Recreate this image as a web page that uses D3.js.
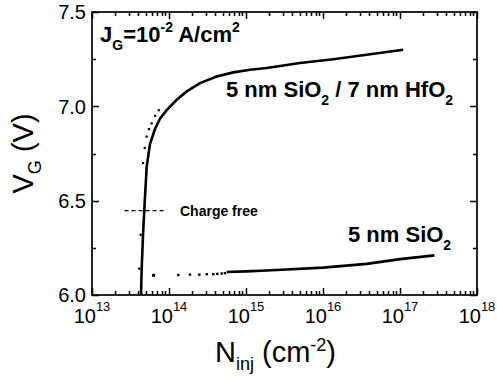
<!DOCTYPE html>
<html>
<head>
<meta charset="utf-8">
<script src="https://cdn.jsdelivr.net/npm/d3@7"></script>
<style>
  body { margin: 0; background: #fff; }
  svg text { font-family: "Liberation Sans", Arial, sans-serif; fill: #000; }
</style>
</head>
<body>
<svg width="497" height="381"></svg>
<script>
// Values: [N_inj (cm^-2), V_G (V)]
const hfo2Curve = [
    [4.33e13, 6.00], [4.42e13, 6.14], [4.6e13, 6.32], [4.85e13, 6.50], [5.13e13, 6.68],
    [5.66e13, 6.80], [6.58e13, 6.88], [7.64e13, 6.935], [9.33e13, 6.98], [1.26e14, 7.035],
    [1.70e14, 7.079], [2.53e14, 7.123], [4.16e14, 7.158], [6.84e14, 7.18], [1.13e15, 7.194],
    [1.86e15, 7.203], [5.03e15, 7.23], [1.36e16, 7.25], [3.69e16, 7.273], [1.10e17, 7.30]
];
const hfo2Dots = [
    [4.42e13, 6.14], [4.6e13, 6.32], [4.95e13, 6.70], [5.2e13, 6.78], [5.5e13, 6.84],
    [5.9e13, 6.88], [6.4e13, 6.91], [7.1e13, 6.95], [7.9e13, 6.98]
];
const sio2Dots = [
    [6.25e13, 6.106], [1.32e14, 6.106], [1.87e14, 6.108], [2.48e14, 6.108], [3.09e14, 6.11],
    [3.76e14, 6.11], [4.24e14, 6.112], [4.83e14, 6.114], [5.33e14, 6.116]
];
const sio2Curve = [
    [5.61e14, 6.122], [1.0e15, 6.125], [1.86e15, 6.13], [1.0e16, 6.145],
    [3.7e16, 6.165], [1.0e17, 6.19], [2.8e17, 6.21]
];
const xMajor = [1e13, 1e14, 1e15, 1e16, 1e17, 1e18];
const xExponents = ["13", "14", "15", "16", "17", "18"];
const yMajor = [6.0, 6.5, 7.0, 7.5];
const yMinor = [6.25, 6.75, 7.25];
const chargeFree = 6.447;

const svg = d3.select("svg");
const mLeft = 92, mRight = 477, mTop = 12, mBottom = 295;

const x = d3.scaleLog().domain([1e13, 1e18]).range([mLeft, mRight]);
const y = d3.scaleLinear().domain([6.0, 7.5]).range([mBottom, mTop]);

// minor ticks of the log axis (2..9 in each decade)
const xMinor = x.ticks().filter(v => xMajor.indexOf(v) < 0);

// Ticks pointing inward on all four sides, drawn as one path
let tickPath = "";
function xTicks(values, len) {
    values.forEach(v => {
        const px = Math.round(x(v)) + 0.5;
        tickPath += `M${px},${mBottom}V${mBottom - len}M${px},${mTop}V${mTop + len}`;
    });
}
function yTicks(values, len) {
    values.forEach(v => {
        const py = Math.round(y(v)) + 0.5;
        tickPath += `M${mLeft},${py}H${mLeft + len}M${mRight},${py}H${mRight - len}`;
    });
}
xTicks(xMinor, 4);
xTicks(xMajor, 7);
yTicks(yMinor, 4);
yTicks(yMajor, 7);
svg.append("path")
    .attr("d", tickPath)
    .attr("fill", "none")
    .attr("stroke", "#000")
    .attr("stroke-width", 1.5);

// tick labels
svg.append("g").selectAll("text")
    .data(yMajor)
    .enter()
    .append("text")
    .attr("x", mLeft - 6)
    .attr("y", d => y(d))
    .attr("dy", "0.36em")
    .attr("text-anchor", "end")
    .style("font-size", "20px")
    .text(d => d3.format(".1f")(d));

svg.append("g").selectAll("text")
    .data(xMajor)
    .enter()
    .append("text")
    .attr("x", d => x(d))
    .attr("y", 323)
    .attr("text-anchor", "middle")
    .style("font-size", "20px")
    .each(function(d, i) {
        const t = d3.select(this);
        t.append("tspan").text("10");
        t.append("tspan").attr("dy", -12).style("font-size", "13px").text(xExponents[i]);
    });

// frame
svg.append("rect")
    .attr("x", mLeft).attr("y", mTop)
    .attr("width", mRight - mLeft).attr("height", mBottom - mTop)
    .attr("fill", "none").attr("stroke", "#000").attr("stroke-width", 1.7);

// curves
const line = d3.line().x(d => x(d[0])).y(d => y(d[1]));

svg.append("path")
    .datum(hfo2Curve)
    .attr("d", line)
    .attr("fill", "none")
    .attr("stroke", "#000")
    .attr("stroke-width", 2.6);

svg.append("g").selectAll("rect")
    .data(hfo2Dots)
    .enter()
    .append("rect")
    .attr("x", d => x(d[0]) - 3.5)
    .attr("y", d => y(d[1]) - 1)
    .attr("width", 2.2).attr("height", 2.2)
    .attr("fill", "#000");

svg.append("path")
    .datum(sio2Curve)
    .attr("d", line)
    .attr("fill", "none")
    .attr("stroke", "#000")
    .attr("stroke-width", 2.6);

svg.append("g").selectAll("rect")
    .data(sio2Dots)
    .enter()
    .append("rect")
    .attr("x", d => x(d[0]) - 1.2)
    .attr("y", d => y(d[1]) - 1.2)
    .attr("width", (d, i) => i === 0 ? 3 : 2.4)
    .attr("height", (d, i) => i === 0 ? 3 : 2.4)
    .attr("fill", "#000");

// charge free marker
svg.append("line")
    .attr("x1", x(2.65e13)).attr("x2", x(9.3e13))
    .attr("y1", y(chargeFree)).attr("y2", y(chargeFree))
    .attr("stroke", "#000").attr("stroke-width", 1.2)
    .attr("stroke-dasharray", "4,3");
svg.append("text")
    .attr("x", 180).attr("y", y(chargeFree) + 5)
    .style("font-size", "14px").style("font-weight", "bold")
    .text("Charge free");

// labels
function label(xp, yp, parts) {
    const t = svg.append("text").attr("x", xp).attr("y", yp)
        .style("font-size", "22px").style("font-weight", "bold");
    let shift = 0;
    parts.forEach(p => {
        const s = t.append("tspan").text(p[0]);
        const dy = p[1] - shift;
        if (dy) s.attr("dy", dy);
        if (p[1]) s.style("font-size", "14px");
        shift = p[1];
    });
}
label(100, 42, [["J", 0], ["G", 8], ["=10", 0], ["-2", -10], [" A/cm", 0], ["2", -10]]);
label(226, 97, [["5 nm SiO", 0], ["2", 8], [" / 7 nm HfO", 0], ["2", 8]]);
label(348, 242, [["5 nm SiO", 0], ["2", 8]]);

// axis titles
const xt = svg.append("text").attr("x", 215).attr("y", 362).style("font-size", "29px");
xt.append("tspan").text("N");
xt.append("tspan").attr("dy", 8).style("font-size", "18px").text("inj");
xt.append("tspan").attr("dy", -8).text(" (cm");
xt.append("tspan").attr("dy", -11).style("font-size", "18px").text("-2");
xt.append("tspan").attr("dy", 11).text(")");

const yt = svg.append("text")
    .attr("transform", `translate(33,${(mTop + mBottom) / 2}) rotate(-90)`)
    .attr("text-anchor", "middle")
    .style("font-size", "29px");
yt.append("tspan").text("V");
yt.append("tspan").attr("dy", 8).style("font-size", "18px").text("G");
yt.append("tspan").attr("dy", -8).text(" (V)");
</script>
</body>
</html>
